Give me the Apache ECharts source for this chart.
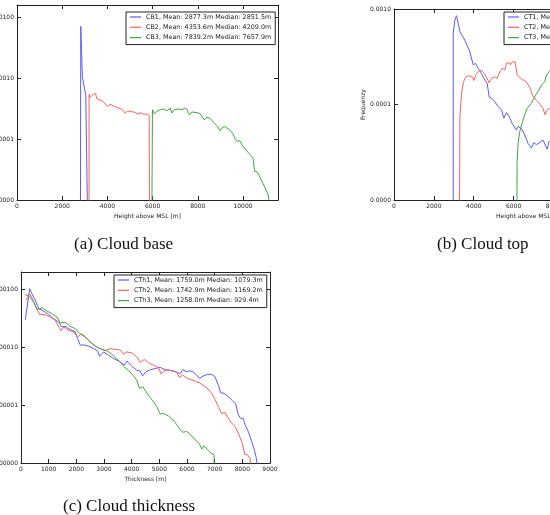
<!DOCTYPE html>
<html><head><meta charset="utf-8">
<script src="https://cdn.jsdelivr.net/npm/echarts@6/dist/echarts.min.js"></script>
<style>html,body{margin:0;padding:0;background:#fff}#c{width:550px;height:515px}</style>
</head><body><div id="c"></div>
<script>
// ---- Panel (a) Cloud base ----
const namesA = ['CB1, Mean: 2877.3m Median: 2851.5m', 'CB2, Mean: 4353.6m Median: 4209.0m', 'CB3, Mean: 7839.2m Median: 7657.9m'];
const cb1 = [[2800,1e-7],[2822,0.0071],[2893,0.00105],[3043,0.00053],[3190,1e-7]];
const cb2 = [[3185,1e-7],[3190,5.4e-4],[3234,4.8e-4],[3382,5.4e-4],[3480,5.6e-4],[3530,4.6e-4],[3677,4.35e-4],[3825,4.1e-4],[4002,3.4e-4],[4120,3.7e-4],[4268,3.5e-4],[4416,3.3e-4],[4637,3.1e-4],[4784,2.64e-4],[4888,2.9e-4],[5080,2.8e-4],[5227,2.75e-4],[5330,2.57e-4],[5449,2.7e-4],[5596,2.55e-4],[5744,2.57e-4],[5848,2.4e-4],[5892,1e-7]];
const cb3 = [[5940,1e-7],[5995,3.03e-4],[6085,2.57e-4],[6189,2.85e-4],[6336,3.03e-4],[6484,3.1e-4],[6632,2.9e-4],[6779,3.22e-4],[6853,2.67e-4],[6957,3.03e-4],[7149,3.1e-4],[7296,3.03e-4],[7414,3.2e-4],[7518,3.1e-4],[7621,2.5e-4],[7740,2.77e-4],[7961,2.72e-4],[8109,2.6e-4],[8286,2.07e-4],[8404,2.3e-4],[8552,2.17e-4],[8699,1.87e-4],[8847,1.65e-4],[8995,1.37e-4],[9069,1.51e-4],[9172,1.61e-4],[9364,1.46e-4],[9541,1.25e-4],[9659,1.0e-4],[9733,9.2e-5],[9851,9.4e-5],[9999,7.6e-5],[10250,5.9e-5],[10442,4.9e-5],[10516,2.96e-5],[10649,2.85e-5],[10841,2.0e-5],[10989,1.57e-5],[11107,1.22e-5],[11200,8e-6]];

// ---- Panel (b) Cloud top ----
const namesB = ['CT1, Mean', 'CT2, Mean', 'CT3, Mean'];
const ct1 = [[2973,1e-7],[2973,5.6e-4],[3056,7.7e-4],[3140,8.5e-4],[3223,8.5e-4],[3306,5.8e-4],[3390,5.6e-4],[3557,4.7e-4],[3724,3.9e-4],[3807,3.57e-4],[3975,2.6e-4],[4092,2.7e-4],[4225,2.4e-4],[4392,2.1e-4],[4559,1.8e-4],[4676,1.67e-4],[4776,1.2e-4],[4893,1.17e-4],[5060,1.07e-4],[5227,9.5e-5],[5394,8.8e-5],[5511,7.2e-5],[5645,8.2e-5],[5778,7.5e-5],[5945,6.25e-5],[6146,5.4e-5],[6229,5.9e-5],[6396,5.6e-5],[6563,4.8e-5],[6730,3.9e-5],[6897,3.5e-5],[7014,4.0e-5],[7148,3.8e-5],[7315,4.0e-5],[7482,4.25e-5],[7582,4.2e-5],[7682,3.4e-5],[7782,4.1e-5],[7950,4.0e-5],[8200,3.8e-5]];
const ct2 = [[3256,1e-7],[3306,7.45e-5],[3390,1.31e-4],[3473,1.67e-4],[3557,1.88e-4],[3674,1.99e-4],[3807,1.99e-4],[3941,1.93e-4],[4008,1.78e-4],[4108,2.04e-4],[4275,2.26e-4],[4392,2.28e-4],[4559,2.08e-4],[4776,1.69e-4],[4893,1.88e-4],[5060,1.95e-4],[5177,1.88e-4],[5310,2.2e-4],[5444,2.4e-4],[5561,2.3e-4],[5645,2.7e-4],[5778,2.75e-4],[5845,2.6e-4],[5945,2.8e-4],[6079,2.8e-4],[6179,2.04e-4],[6313,1.93e-4],[6446,1.8e-4],[6563,1.8e-4],[6680,1.67e-4],[6813,1.5e-4],[6947,1.26e-4],[7148,1.1e-4],[7282,1.03e-4],[7482,9.1e-5],[7582,7.8e-5],[7682,8.8e-5],[7815,9.1e-5],[8000,8.5e-5],[8200,8.0e-5]];
const ct3 = [[6113,1e-7],[6180,2.6e-5],[6229,3.9e-5],[6313,5.2e-5],[6446,6.6e-5],[6563,7.8e-5],[6680,9.1e-5],[6780,8.8e-5],[6897,1.03e-4],[7014,1.16e-4],[7148,1.29e-4],[7282,1.42e-4],[7399,1.6e-4],[7482,1.55e-4],[7565,1.73e-4],[7648,2.04e-4],[7782,2.2e-4],[7950,2.5e-4],[8200,2.8e-4]];

// ---- Panel (c) Cloud thickness ----
const namesC = ['CTh1, Mean: 1759.0m Median: 1079.3m', 'CTh2, Mean: 1742.9m Median: 1169.2m', 'CTh3, Mean: 1258.0m Median: 929.4m'];
const cth1 = [[156,3.0e-4],[313,1.03e-3],[397,8.4e-4],[517,6.5e-4],[638,4.65e-4],[818,4.24e-4],[998,3.7e-4],[1179,3.1e-4],[1359,2.74e-4],[1480,2.25e-4],[1600,2.3e-4],[1780,2.02e-4],[1961,1.85e-4],[2045,1.42e-4],[2141,1.09e-4],[2262,1.1e-4],[2442,1.05e-4],[2622,9.5e-5],[2767,8.7e-5],[2839,7.0e-5],[2983,8.3e-5],[3164,7.3e-5],[3344,6.4e-5],[3525,5.8e-5],[3645,5.3e-5],[3729,4.9e-5],[3825,5.8e-5],[4006,4.7e-5],[4186,4.0e-5],[4307,3.9e-5],[4391,3.2e-5],[4523,3.8e-5],[4692,4.1e-5],[4848,4.3e-5],[5029,4.5e-5],[5209,4.1e-5],[5390,4.0e-5],[5510,3.9e-5],[5630,3.7e-5],[5750,3.5e-5],[5847,4.1e-5],[5991,3.8e-5],[6087,3.9e-5],[6207,3.8e-5],[6352,3.3e-5],[6448,2.9e-5],[6592,3.2e-5],[6737,3.4e-5],[6893,3.4e-5],[7013,3.1e-5],[7134,2.2e-5],[7218,1.64e-5],[7338,1.6e-5],[7495,1.4e-5],[7639,1.2e-5],[7759,1.05e-5],[7855,6.8e-6],[7940,5.9e-6],[8036,5.9e-6],[8096,4.6e-6],[8216,3.5e-6],[8336,2.35e-6],[8421,1.8e-6],[8493,1.3e-6],[8560,8e-7]];
const cth2 = [[192,6.6e-4],[313,8.4e-4],[397,7.2e-4],[517,5.3e-4],[674,3.66e-4],[878,3.66e-4],[1059,3.34e-4],[1239,2.93e-4],[1444,1.92e-4],[1540,2.25e-4],[1720,1.97e-4],[1901,1.85e-4],[2045,1.51e-4],[2165,1.68e-4],[2322,1.51e-4],[2502,1.24e-4],[2683,1.05e-4],[2863,9.5e-5],[3044,8.7e-5],[3224,9.5e-5],[3404,9.2e-5],[3585,9.0e-5],[3705,7.6e-5],[3825,8.3e-5],[4006,8.0e-5],[4186,6.8e-5],[4307,5.5e-5],[4463,6.2e-5],[4607,5.4e-5],[4788,4.9e-5],[4968,4.5e-5],[5064,3.44e-5],[5173,3.9e-5],[5293,4.1e-5],[5450,3.9e-5],[5630,3.7e-5],[5726,3.0e-5],[5847,3.3e-5],[6015,2.9e-5],[6207,2.7e-5],[6352,2.54e-5],[6472,2.4e-5],[6616,2.14e-5],[6737,1.95e-5],[6893,1.6e-5],[7013,1.26e-5],[7134,9.4e-6],[7254,7.1e-6],[7374,7.5e-6],[7495,5.9e-6],[7615,4.9e-6],[7735,4.3e-6],[7855,3.3e-6],[7976,2.35e-6],[8096,1.39e-6],[8180,1.4e-6],[8276,1.2e-6],[8350,7e-7]];
const cth3 = [[156,8.1e-4],[313,7.6e-4],[457,6.05e-4],[577,4.47e-4],[758,4.83e-4],[938,4.24e-4],[1119,3.8e-4],[1299,3.34e-4],[1420,2.64e-4],[1600,2.7e-4],[1780,2.3e-4],[1961,2.1e-4],[2117,1.73e-4],[2262,1.62e-4],[2406,1.36e-4],[2598,1.13e-4],[2767,9.9e-5],[2923,9.2e-5],[3104,8.7e-5],[3284,7.6e-5],[3441,6.4e-5],[3585,5.6e-5],[3729,4.6e-5],[3886,4.0e-5],[4042,3.3e-5],[4186,2.7e-5],[4282,1.95e-5],[4403,2.07e-5],[4523,1.71e-5],[4643,1.4e-5],[4788,1.15e-5],[4908,9.4e-6],[5029,7.1e-6],[5173,7.1e-6],[5329,6.5e-6],[5486,5.6e-6],[5630,4.6e-6],[5774,3.65e-6],[5847,3.4e-6],[5991,3.5e-6],[6135,3.07e-6],[6292,2.52e-6],[6448,2.15e-6],[6532,1.74e-6],[6616,2.0e-6],[6737,1.7e-6],[6857,1.5e-6],[6977,1.4e-6],[7013,1e-7]];

const colors = ['#5c5cf5', '#f56262', '#48a048'];
const axisColor = '#222';
const tickFont = {fontFamily: 'DejaVu Sans', fontSize: 6, color: '#222'};

const grids = [
  {left: 17, top: 5, width: 261, height: 195, outerBoundsMode: 'none', containLabel: false},
  {left: 394, top: 9, width: 271, height: 191, outerBoundsMode: 'none', containLabel: false},
  {left: 21, top: 272, width: 249, height: 191, outerBoundsMode: 'none', containLabel: false}
];
const xCfg = [
  {max: 11550, interval: 2000, name: 'Height above MSL [m]'},
  {max: 13600, interval: 2000, name: 'Height above MSL [m]'},
  {max: 9000, interval: 1000, name: 'Thickness [m]'}
];
const yCfg = [
  {min: 1e-5, max: 0.0158, digits: 4},
  {min: 1e-5, max: 1e-3, digits: 4},
  {min: 1e-6, max: 2e-3, digits: 5}
];

const xAxes = [], yAxes = [];
grids.forEach((g, i) => {
  const common = {
    gridIndex: i, axisLine: {show: true, onZero: false, lineStyle: {color: axisColor, width: 1}},
    axisTick: {show: true, inside: true, length: 4, lineStyle: {color: axisColor}},
    splitLine: {show: false}
  };
  xAxes.push(Object.assign({}, common, {
    type: 'value', position: 'bottom', min: 0, max: xCfg[i].max, interval: xCfg[i].interval,
    name: xCfg[i].name, nameLocation: 'middle', nameGap: 13, nameTextStyle: tickFont,
    axisLabel: Object.assign({margin: 3, showMaxLabel: i === 2, formatter: (v) => String(Math.round(v))}, tickFont)
  }));
  xAxes.push(Object.assign({}, common, {
    type: 'value', position: 'top', min: 0, max: xCfg[i].max, interval: xCfg[i].interval,
    axisLabel: {show: false}
  }));
  yAxes.push(Object.assign({}, common, {
    type: 'log', position: 'left', min: yCfg[i].min, max: yCfg[i].max, logBase: 10,
    name: 'Frequenzy', nameLocation: 'middle', nameGap: 27, nameTextStyle: tickFont,
    axisLabel: Object.assign({margin: 3, showMaxLabel: i === 1, formatter: (v) => Number(v).toFixed(yCfg[i].digits)}, tickFont)
  }));
  yAxes.push(Object.assign({}, common, {
    type: 'log', position: 'right', min: yCfg[i].min, max: yCfg[i].max, logBase: 10,
    axisLabel: {show: false}
  }));
});

function mk(name, data, ci, gi) {
  return {
    type: 'line', name: name, data: data, xAxisIndex: gi * 2, yAxisIndex: gi * 2,
    symbol: 'none', showSymbol: false, clip: true, animation: false,
    lineStyle: {width: 1, color: colors[ci]}, itemStyle: {color: colors[ci]}
  };
}
const series = [
  mk(namesA[0], cb1, 0, 0), mk(namesA[1], cb2, 1, 0), mk(namesA[2], cb3, 2, 0),
  mk(namesB[0], ct1, 0, 1), mk(namesB[1], ct2, 1, 1), mk(namesB[2], ct3, 2, 1),
  mk(namesC[0], cth1, 0, 2), mk(namesC[1], cth2, 1, 2), mk(namesC[2], cth3, 2, 2)
];

const legendBase = {
  orient: 'vertical', icon: 'rect', itemWidth: 11, itemHeight: 1.2, itemGap: 2.3,
  padding: [1, 4, 3, 4], borderColor: axisColor, borderWidth: 1, backgroundColor: '#fff',
  selectedMode: false,
  textStyle: {fontFamily: 'DejaVu Sans', fontSize: 6.4, color: '#222', lineHeight: 8}
};
const legends = [
  Object.assign({}, legendBase, {data: namesA, left: 126, top: 12}),
  Object.assign({}, legendBase, {data: namesB, left: 504, top: 12}),
  Object.assign({}, legendBase, {data: namesC, left: 114, top: 275})
];

const capFont = '17px "Liberation Serif"';
const captions = [
  {text: '(a) Cloud base', left: 74, top: 236},
  {text: '(b) Cloud top', left: 437, top: 236},
  {text: '(c) Cloud thickness', left: 63, top: 498}
];

const chart = echarts.init(document.getElementById('c'), null, {renderer: 'canvas'});
chart.setOption({
  backgroundColor: '#fff',
  animation: false,
  grid: grids,
  xAxis: xAxes,
  yAxis: yAxes,
  legend: legends,
  series: series,
  graphic: captions.map(c => ({type: 'text', left: c.left, top: c.top, style: {text: c.text, font: capFont, fill: '#111'}}))
});
</script>
</body></html>
